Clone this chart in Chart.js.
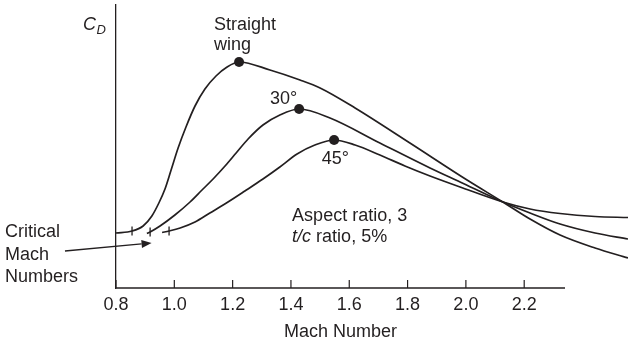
<!DOCTYPE html>
<html>
<head>
<meta charset="utf-8">
<script src="https://cdn.jsdelivr.net/npm/chart.js@4.4.0/dist/chart.umd.min.js"></script>
<style>
  body { margin: 0; background: #fff; }
  #wrap { width: 628px; height: 346px; }
</style>
</head>
<body>
<div id="wrap"><canvas id="chart" width="628" height="346"></canvas></div>
<script>
// C_D has no scale on the original figure, so y is a relative value (0 = axis)
const machTicks = [0.8, 1.0, 1.2, 1.4, 1.6, 1.8, 2.0, 2.2];
const axisEnd = 2.34; // the drawn x axis stops here, the curves run on

const straightWing = [
  [0.800, 55], [0.855, 57], [0.893, 62], [0.923, 72], [0.947, 85], [0.968, 99],
  [0.989, 118], [1.013, 140], [1.040, 161], [1.071, 182], [1.105, 199],
  [1.143, 212], [1.181, 221], [1.222, 226], [1.328, 218], [1.431, 208],
  [1.500, 200], [1.620, 180], [1.808, 145], [2.004, 108], [2.127, 86],
  [2.220, 69], [2.323, 53], [2.443, 40], [2.556, 30]
];
const swept30 = [
  [0.906, 54.5], [0.917, 56], [0.951, 62], [1.002, 73], [1.054, 86], [1.095, 98],
  [1.133, 109], [1.174, 122], [1.212, 135], [1.253, 149], [1.304, 163],
  [1.362, 173], [1.428, 179], [1.534, 170], [1.705, 145], [1.877, 120],
  [1.980, 106], [2.127, 86], [2.220, 75], [2.323, 64], [2.443, 55], [2.556, 49]
];
const swept45 = [
  [0.958, 55.5], [0.982, 57], [1.020, 60], [1.071, 66], [1.122, 75], [1.184, 86],
  [1.242, 97], [1.304, 109], [1.362, 121], [1.421, 134], [1.482, 143],
  [1.548, 148], [1.620, 143], [1.705, 133], [1.791, 122], [1.877, 112],
  [1.980, 101], [2.127, 86], [2.220, 79], [2.323, 74.5], [2.443, 71.5], [2.556, 70.5]
];

// peak drag points and critical Mach numbers
const peaks = [[1.222, 226], [1.428, 179], [1.548, 148]];
const criticalMach = [[0.855, 57], [0.917, 56], [0.982, 57]];
const arrowLine = [[0.625, 37], [0.922, 45]];

const ink = '#231f20';
const family = '"Liberation Sans", Arial, sans-serif';
const fontSize = 18;

const notes = [
  { parts: [['Straight']], m: 1.136, v: 258 },
  { parts: [['wing']], m: 1.136, v: 238 },
  { parts: [['30°']], m: 1.328, v: 184 },
  { parts: [['45°']], m: 1.506, v: 124 },
  { parts: [['Aspect ratio, 3']], m: 1.404, v: 67 },
  { parts: [['t/c', true], [' ratio, 5%']], m: 1.404, v: 46 },
  { parts: [['Critical']], m: 0.419, v: 51 },
  { parts: [['Mach']], m: 0.419, v: 28 },
  { parts: [['Numbers']], m: 0.419, v: 6 }
];

const xy = arr => arr.map(([x, y]) => ({ x, y }));

const curve = data => ({
  data: xy(data),
  showLine: true,
  borderColor: ink,
  borderWidth: 1.7,
  pointRadius: 0,
  cubicInterpolationMode: 'monotone',
  clip: false
});

const extras = {
  id: 'extras',
  afterDraw(chart) {
    const { ctx, scales: { x, y } } = chart;
    ctx.save();
    ctx.strokeStyle = ink;
    ctx.fillStyle = ink;

    // x axis line, shorter than the plot
    const base = y.getPixelForValue(0);
    ctx.lineWidth = 1.3;
    ctx.beginPath();
    ctx.moveTo(x.getPixelForValue(0.8), base);
    ctx.lineTo(x.getPixelForValue(axisEnd), base);
    ctx.stroke();

    // tick marks point up into the plot
    ctx.lineWidth = 1.2;
    x.ticks.forEach(t => {
      const px = x.getPixelForValue(t.value);
      ctx.beginPath();
      ctx.moveTo(px, base);
      ctx.lineTo(px, base - 8);
      ctx.stroke();
    });

    // arrow to the critical Mach numbers
    const [a, b] = arrowLine.map(([m, v]) => [x.getPixelForValue(m), y.getPixelForValue(v)]);
    const ang = Math.atan2(b[1] - a[1], b[0] - a[0]);
    const head = 10, half = 4;
    const hx = b[0] - head * Math.cos(ang), hy = b[1] - head * Math.sin(ang);
    ctx.lineWidth = 1.3;
    ctx.beginPath();
    ctx.moveTo(a[0], a[1]);
    ctx.lineTo(hx, hy);
    ctx.stroke();
    ctx.beginPath();
    ctx.moveTo(b[0], b[1]);
    ctx.lineTo(hx + half * Math.sin(ang), hy - half * Math.cos(ang));
    ctx.lineTo(hx - half * Math.sin(ang), hy + half * Math.cos(ang));
    ctx.closePath();
    ctx.fill();

    // text notes
    ctx.textBaseline = 'alphabetic';
    notes.forEach(n => {
      let px = x.getPixelForValue(n.m);
      const py = y.getPixelForValue(n.v);
      n.parts.forEach(([t, it]) => {
        ctx.font = `${it ? 'italic ' : ''}${fontSize}px ${family}`;
        ctx.fillText(t, px, py);
        px += ctx.measureText(t).width;
      });
    });

    // C_D
    const cx = x.getPixelForValue(0.687), cy = y.getPixelForValue(258);
    ctx.font = `italic ${fontSize}px ${family}`;
    ctx.fillText('C', cx, cy);
    const w = ctx.measureText('C').width;
    ctx.font = `italic 13px ${family}`;
    ctx.fillText('D', cx + w + 0.5, cy + 3.5);

    // axis title centred under the drawn axis, not the whole plot width
    ctx.font = `${fontSize}px ${family}`;
    ctx.textAlign = 'center';
    const mid = (x.getPixelForValue(0.8) + x.getPixelForValue(axisEnd)) / 2;
    ctx.fillText('Mach Number', mid, x.bottom - 9);
    ctx.restore();
  }
};

new Chart(document.getElementById('chart'), {
  type: 'scatter',
  data: {
    datasets: [
      { data: xy(peaks), pointRadius: 5, backgroundColor: ink, borderWidth: 0 },
      { data: xy(criticalMach), pointStyle: 'line', rotation: 90, pointRadius: 4.5, borderColor: ink, borderWidth: 1.3 },
      curve(straightWing),
      curve(swept30),
      curve(swept45)
    ]
  },
  options: {
    responsive: false,
    animation: false,
    devicePixelRatio: 1,
    events: [],
    layout: { autoPadding: false, padding: { left: 116, top: 5, right: 0, bottom: 0 } },
    plugins: { legend: { display: false }, tooltip: { enabled: false } },
    scales: {
      x: {
        type: 'linear',
        min: 0.8,
        max: 2.556,
        afterBuildTicks: s => { s.ticks = machTicks.map(v => ({ value: v })); },
        afterFit: s => { s.height = 58; },
        grid: { drawOnChartArea: false, drawTicks: false },
        border: { display: false },
        ticks: {
          padding: 6, color: ink, autoSkip: false, maxRotation: 0,
          font: { family, size: fontSize },
          callback: v => v.toFixed(1)
        }
      },
      y: {
        min: 0,
        max: 283,
        afterFit: s => { s.width = 0; },
        grid: { drawOnChartArea: false, drawTicks: false },
        border: { color: ink, width: 1.3 },
        ticks: { display: false }
      }
    }
  },
  plugins: [extras]
});
</script>
</body>
</html>
